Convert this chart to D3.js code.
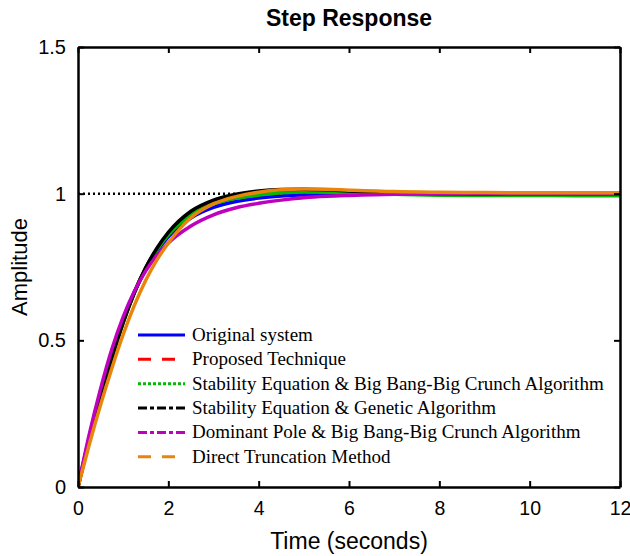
<!DOCTYPE html>
<html>
<head>
<meta charset="utf-8">
<script src="https://cdn.jsdelivr.net/npm/d3@7"></script>
<style>
  body { margin: 0; background: #fff; }
  .tick text { font-family: "Liberation Sans", Arial, sans-serif; }
</style>
</head>
<body>
<div class="chart"></div>
<script>
// time samples (seconds)
let time = [0, 0.25, 0.5, 0.75, 1, 1.25, 1.5, 1.75, 2, 2.5, 3, 3.5, 4, 4.5, 5, 5.5, 6, 7, 8, 9, 10, 11, 12];

// step responses
let original   = [0, 0.17, 0.32, 0.455, 0.57, 0.665, 0.742, 0.805, 0.853, 0.917, 0.953, 0.973, 0.985, 0.992, 0.996, 0.999, 1.0, 1.001, 1.0, 1.0, 1.0, 1.0, 1.0];
let proposed   = [0, 0.16, 0.305, 0.44, 0.562, 0.664, 0.747, 0.811, 0.861, 0.929, 0.966, 0.985, 0.997, 1.004, 1.007, 1.006, 1.004, 1.0, 0.997, 0.996, 0.996, 0.996, 0.996];
let seBbbc     = [0, 0.16, 0.305, 0.44, 0.562, 0.664, 0.746, 0.81, 0.86, 0.928, 0.965, 0.984, 0.995, 1.003, 1.006, 1.005, 1.002, 0.998, 0.995, 0.994, 0.994, 0.993, 0.993];
let seGa       = [0, 0.16, 0.305, 0.44, 0.56, 0.663, 0.748, 0.815, 0.868, 0.94, 0.978, 0.998, 1.009, 1.014, 1.015, 1.013, 1.009, 1.003, 1.0, 0.999, 1.0, 1.0, 1.0];
let dpBbbc     = [0, 0.18, 0.335, 0.47, 0.58, 0.668, 0.737, 0.79, 0.832, 0.89, 0.928, 0.952, 0.967, 0.978, 0.986, 0.991, 0.994, 0.998, 0.999, 1.0, 1.0, 1.0, 1.0];
let truncation = [0, 0.145, 0.28, 0.405, 0.52, 0.62, 0.705, 0.775, 0.832, 0.918, 0.965, 0.99, 1.005, 1.013, 1.016, 1.015, 1.012, 1.007, 1.005, 1.004, 1.003, 1.003, 1.003];

let seriesNames = ["Original system", "Proposed Technique",
    "Stability Equation & Big Bang-Big Crunch Algorithm",
    "Stability Equation & Genetic Algorithm",
    "Dominant Pole & Big Bang-Big Crunch Algorithm",
    "Direct Truncation Method"];
let seriesValues = [original, proposed, seBbbc, seGa, dpBbbc, truncation];

let xTicks = [0, 2, 4, 6, 8, 10, 12];
let yTicks = [0, 0.5, 1, 1.5];

// line looks (dashes only show up in the legend, the dense curves look solid)
let colors = ["#0000ff", "#ff0000", "#00bb00", "#000000", "#bf00bf", "#e8850a"];
let dashes = [null, "13,11", "3,2", "9,3,4,3", "9,3,4,3", "13,11"];

let margin = {top: 47, right: 10, bottom: 69, left: 78};
let width = 630 - margin.left - margin.right;
let height = 556 - margin.top - margin.bottom;

let svg = d3.select(".chart")
    .append("svg")
    .attr("width", 630)
    .attr("height", 556);

let g = svg.append("g")
    .attr("transform", `translate(${margin.left},${margin.top})`);

let xScale = d3.scaleLinear().domain([0, 12]).range([0, width]);
let yScale = d3.scaleLinear().domain([0, 1.5]).range([height, 0]);

g.append("clipPath").attr("id", "plotclip")
    .append("rect").attr("width", width).attr("height", height);

// steady state reference
g.append("line")
    .attr("x1", 0).attr("x2", width)
    .attr("y1", yScale(1)).attr("y2", yScale(1))
    .attr("stroke", "#000")
    .attr("stroke-width", 2.5)
    .attr("stroke-dasharray", "2,3");

let line = d3.line()
    .x(d => xScale(d[0]))
    .y(d => yScale(d[1]))
    .curve(d3.curveMonotoneX);

seriesValues.forEach((vals, i) => {
    g.append("path")
        .datum(time.map((t, j) => [t, vals[j]]))
        .attr("clip-path", "url(#plotclip)")
        .attr("fill", "none")
        .attr("stroke", colors[i])
        .attr("stroke-width", 3.5)
        .attr("d", line);
});

// axes, ticks pointing inward on all four sides
let axisFont = '"Liberation Sans", Arial, sans-serif';
g.append("g")
    .attr("transform", `translate(0,${height})`)
    .call(d3.axisBottom(xScale).tickValues(xTicks).tickSizeInner(-6).tickSizeOuter(0).tickPadding(14))
    .call(a => a.selectAll("text").attr("font-size", 19.5).attr("fill", "#000"));
g.append("g")
    .call(d3.axisLeft(yScale).tickValues(yTicks).tickFormat(d3.format("")).tickSizeInner(-6).tickSizeOuter(0).tickPadding(12))
    .call(a => a.selectAll("text").attr("font-size", 20).attr("fill", "#000"));
g.append("g")
    .call(d3.axisTop(xScale).tickValues(xTicks).tickSizeInner(-6).tickSizeOuter(0).tickFormat(""));
g.append("g")
    .attr("transform", `translate(${width},0)`)
    .call(d3.axisRight(yScale).tickValues(yTicks).tickSizeInner(-6).tickSizeOuter(0).tickFormat(""));
g.selectAll(".domain").attr("stroke", "#000").attr("stroke-width", 2.5);
g.selectAll(".tick line").attr("stroke", "#000").attr("stroke-width", 2);

// title and labels
svg.append("text")
    .attr("x", margin.left + width / 2).attr("y", 26)
    .attr("text-anchor", "middle")
    .attr("font-family", axisFont).attr("font-weight", "bold").attr("font-size", 23)
    .text("Step Response");
svg.append("text")
    .attr("x", margin.left + width / 2).attr("y", 549)
    .attr("text-anchor", "middle")
    .attr("font-family", axisFont).attr("font-size", 23)
    .text("Time (seconds)");
svg.append("text")
    .attr("transform", `translate(27,${margin.top + height / 2}) rotate(-90)`)
    .attr("text-anchor", "middle")
    .attr("font-family", axisFont).attr("font-size", 22)
    .text("Amplitude");

// legend
let legend = g.append("g").attr("transform", "translate(60,288)");
legend.selectAll("line")
    .data(seriesNames)
    .enter()
    .append("line")
    .attr("x1", 0).attr("x2", 47)
    .attr("y1", (d, i) => i * 24.35).attr("y2", (d, i) => i * 24.35)
    .attr("stroke", (d, i) => colors[i])
    .attr("stroke-width", 3)
    .attr("stroke-dasharray", (d, i) => dashes[i]);
legend.selectAll("text")
    .data(seriesNames)
    .enter()
    .append("text")
    .attr("x", 54)
    .attr("y", (d, i) => i * 24.35 + 6)
    .attr("font-family", '"Liberation Serif", "Times New Roman", serif')
    .attr("font-size", 19)
    .text(d => d);
</script>
</body>
</html>
